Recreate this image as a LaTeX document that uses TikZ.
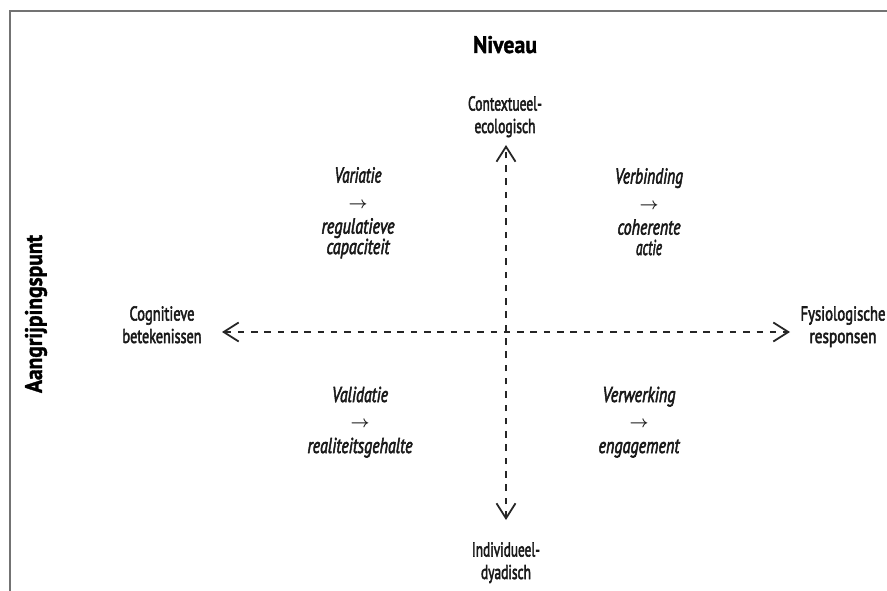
\documentclass[tikz,border=0pt]{standalone}
\usepackage{fontspec}
\setmainfont{PT Sans}[FakeBold=3]
\newfontfamily\titlefont{PT Sans}[FakeBold=1.5]
\usetikzlibrary{arrows.meta}
\newcommand{\fw}[2]{\resizebox{#1pt}{\height}{#2}}
\newcommand{\arr}{\resizebox{19pt}{!}{\boldmath$\rightarrow$}}
\tikzset{
  lbl/.style={font=\fontsize{20}{22.5}\selectfont, align=center, inner sep=0pt, anchor=base, text=black!90},
  quad/.style={lbl, font=\fontsize{21.5}{20.5}\selectfont\itshape},
  ttl/.style={lbl, font=\titlefont\fontsize{24}{26}\selectfont\bfseries, text=black},
  axis/.style={line width=2pt, dash pattern=on 6.5pt off 6.8pt, black!85,
    {Straight Barb[length=15pt,width=19pt,line width=1.8pt]}-{Straight Barb[length=15pt,width=19pt,line width=1.8pt]}},
  frame/.style={draw=black!55, line width=2pt}
}
\begin{document}
\begin{tikzpicture}[x=1pt,y=-1pt]
\useasboundingbox (0,0) rectangle (887,591);
\draw[frame] (9.5,592) -- (9.5,11) -- (888,11);

\node[ttl] (niveau) at (505,53) {\fw{64}{Niveau}};
\node[ttl, rotate=90, anchor=center] (aangr) at (36,314) {\fw{158}{Aangrijpingspunt}};

\node[lbl] (ctx) at (505,133) {\fw{74}{Contextueel-}\\\fw{61}{ecologisch}};
\node[lbl] (ind) at (506,579) {\fw{68}{Individueel-}\\\fw{50}{dyadisch}};
\node[lbl] (cog) at (162,343) {\fw{65}{Cognitieve}\\\fw{79}{betekenissen}};
\node[lbl] (fys) at (843,343) {\fw{85}{Fysiologische}\\\fw{67}{responsen}};

\coordinate (top) at (506,145);
\coordinate (bot) at (506,520);
\coordinate (lt) at (222,332);
\coordinate (rt) at (790,332);
\draw[axis] (bot) -- (top);
\draw[axis] (lt) -- (rt);

\node[quad] (var) at (358,254) {\fw{47}{Variatie}\\[5pt]\arr\\[5pt]\fw{73}{regulatieve}\\\fw{63}{capaciteit}};
\node[quad] (verb) at (649,255) {\fw{68}{Verbinding}\\[5pt]\arr\\[5pt]\fw{63}{coherente}\\\fw{26}{actie}};
\node[quad] (val) at (360,453) {\fw{56}{Validatie}\\[5pt]\arr\\[5pt]\fw{105}{realiteitsgehalte}};
\node[quad] (verw) at (639,453) {\fw{73}{Verwerking}\\[5pt]\arr\\[5pt]\fw{81}{engagement}};
\end{tikzpicture}
\end{document}
